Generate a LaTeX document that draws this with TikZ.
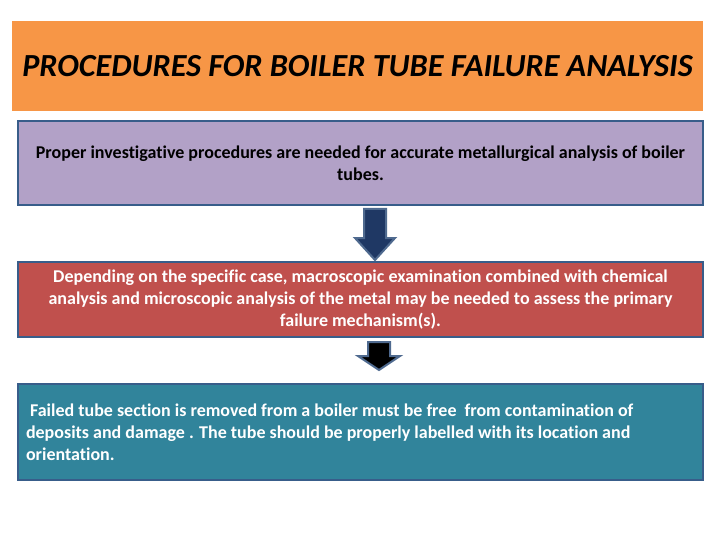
\documentclass[tikz,border=0pt]{standalone}
\usepackage{fontspec}
\setmainfont{Carlito}[Ligatures=NoCommon]
\hyphenpenalty=10000
\exhyphenpenalty=10000
\definecolor{orangeF}{HTML}{F79646}
\definecolor{purpleF}{HTML}{B2A1C7}
\definecolor{redF}{HTML}{C0504D}
\definecolor{tealF}{HTML}{31849B}
\definecolor{borderB}{HTML}{385D8A}
\definecolor{arrowF}{HTML}{1F3864}
\definecolor{arrowB}{HTML}{4F6A8F}
\begin{document}
\begin{tikzpicture}[x=1pt,y=-1pt,
  box/.style={draw=borderB,line width=2.5pt,minimum width=685pt,inner sep=0pt,font=\fontsize{18}{22}\selectfont\bfseries},
  barrow/.style={draw=arrowB,line width=2pt,line join=miter}]
\useasboundingbox (0,0) rectangle (720,540);
\fill[white] (0,0) rectangle (720,540);
\node[fill=orangeF,minimum width=691pt,minimum height=90pt,inner sep=0pt,
  font=\fontsize{32.2}{36}\selectfont\bfseries\itshape] (title) at (357.5,66) {PROCEDURES FOR BOILER TUBE FAILURE ANALYSIS};
\node[box,fill=purpleF,minimum height=84pt,text width=680pt,align=flush center] (p) at (360.5,163)
  {Proper investigative procedures are needed for accurate metallurgical analysis of boiler\\ tubes.};
\node[box,fill=redF,minimum height=75pt,text width=680pt,align=flush center,text=white] (r) at (360.5,299.5)
  {Depending on the specific case, macroscopic examination combined with chemical\\ analysis and microscopic analysis of the metal may be needed to assess the primary\\ failure mechanism(s).};
\node[box,fill=tealF,minimum height=96pt,text width=669pt,align=flush left,text=white] (t) at (360.5,432)
  {\ Failed tube section is removed from a boiler must be free\ \ from contamination of\\ deposits and damage . The tube should be properly labelled with its location and\\ orientation.};
% arrow 1
\draw[barrow,fill=arrowF] (364,209) -- (386,209) -- (386,238) -- (395,238) -- (375,260) -- (355,238) -- (364,238) -- cycle;
% arrow 2
\draw[barrow,fill=black] (368,342) -- (390,342) -- (390,356) -- (400,356) -- (379,370) -- (358,356) -- (368,356) -- cycle;
\end{tikzpicture}
\end{document}
